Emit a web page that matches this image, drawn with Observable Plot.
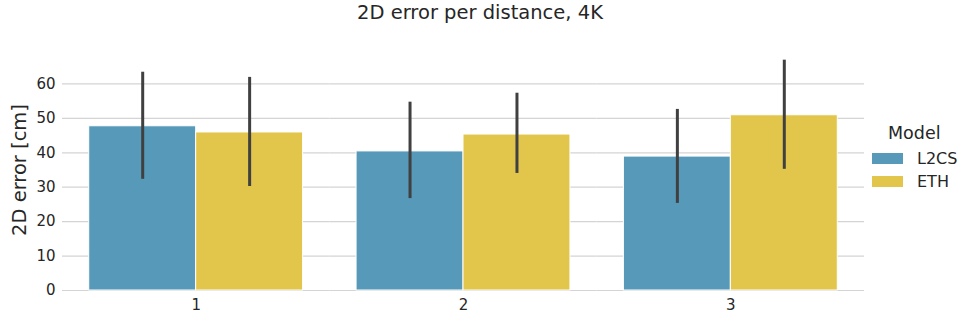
<!DOCTYPE html>
<html><head><meta charset="utf-8">
<script src="https://cdn.jsdelivr.net/npm/d3@7"></script>
<script src="https://cdn.jsdelivr.net/npm/@observablehq/plot@0.6"></script>
<style>
body{margin:0;background:#fff;font-family:"DejaVu Sans",sans-serif;color:#262626}
#wrap{position:relative;width:960px;height:320px;overflow:hidden}
#title{position:absolute;top:0;left:0;width:960px;height:30px;text-align:center;font-size:19.5px;line-height:26px;z-index:2}
#chart{position:absolute;top:30px;left:0;z-index:1}
#ylab{position:absolute;left:19px;top:170px;transform:translate(-50%,-50%) rotate(-90deg);font-size:19.5px;white-space:nowrap;z-index:2}
#legend{position:absolute;left:872px;top:123px;z-index:2}
#legend .t{font-size:17.5px;margin-left:16px;margin-bottom:4px}
#legend .r{display:flex;align-items:center;height:23px;font-size:16px}
#legend .s{width:31px;height:11px;margin-right:14px}
</style></head>
<body>
<div id="wrap">
  <div id="title">2D error per distance, 4K</div>
  <div id="ylab">2D error [cm]</div>
  <div id="chart"></div>
  <div id="legend"></div>
</div>
<script>
const distances = [1, 2, 3];
const models = ["L2CS", "ETH"];
const colors = ["#5799b8", "#e2c54b"];
const l2csMean = [47.7, 40.4, 38.9];
const l2csLow = [32.3, 26.7, 25.3];
const l2csHigh = [63.4, 54.7, 52.6];
const ethMean = [45.9, 45.3, 50.9];
const ethLow = [30.2, 34.0, 35.2];
const ethHigh = [61.9, 57.3, 66.9];
const yTicks = [0, 10, 20, 30, 40, 50, 60];

const rows = [];
distances.forEach((d, i) => {
  rows.push({distance: d, model: "L2CS", mean: l2csMean[i], low: l2csLow[i], high: l2csHigh[i]});
  rows.push({distance: d, model: "ETH", mean: ethMean[i], low: ethLow[i], high: ethHigh[i]});
});

const chart = Plot.plot({
  width: 960, height: 290,
  marginLeft: 62, marginRight: 96, marginTop: 19, marginBottom: 30,
  style: {fontSize: "15px", fontFamily: "DejaVu Sans, sans-serif", color: "#262626", background: "white"},
  facet: {data: rows, x: "distance"},
  fx: {domain: distances, padding: 0, round: false, axis: "bottom", label: null, tickSize: 0, tickPadding: 9},
  x: {domain: models, paddingInner: 0, paddingOuter: 0.25, round: false, axis: null},
  y: {domain: [0, 70], ticks: yTicks, tickSize: 0, tickPadding: 7, label: null},
  color: {domain: models, range: colors},
  marks: [
    Plot.ruleY(yTicks, {y: d => d, stroke: "#d4d4d4", strokeWidth: 1.2}),
    Plot.barY(rows, {x: "model", y: "mean", fill: "model", stroke: "white", strokeWidth: 1}),
    Plot.ruleX(rows, {x: "model", y1: "low", y2: "high", stroke: "#404040", strokeWidth: 3})
  ]
});
document.getElementById("chart").appendChild(chart);

const lg = document.getElementById("legend");
lg.innerHTML = `<div class="t">Model</div>` + models.map((m, i) =>
  `<div class="r"><div class="s" style="background:${colors[i]}"></div>${m}</div>`).join("");
</script>
</body></html>
